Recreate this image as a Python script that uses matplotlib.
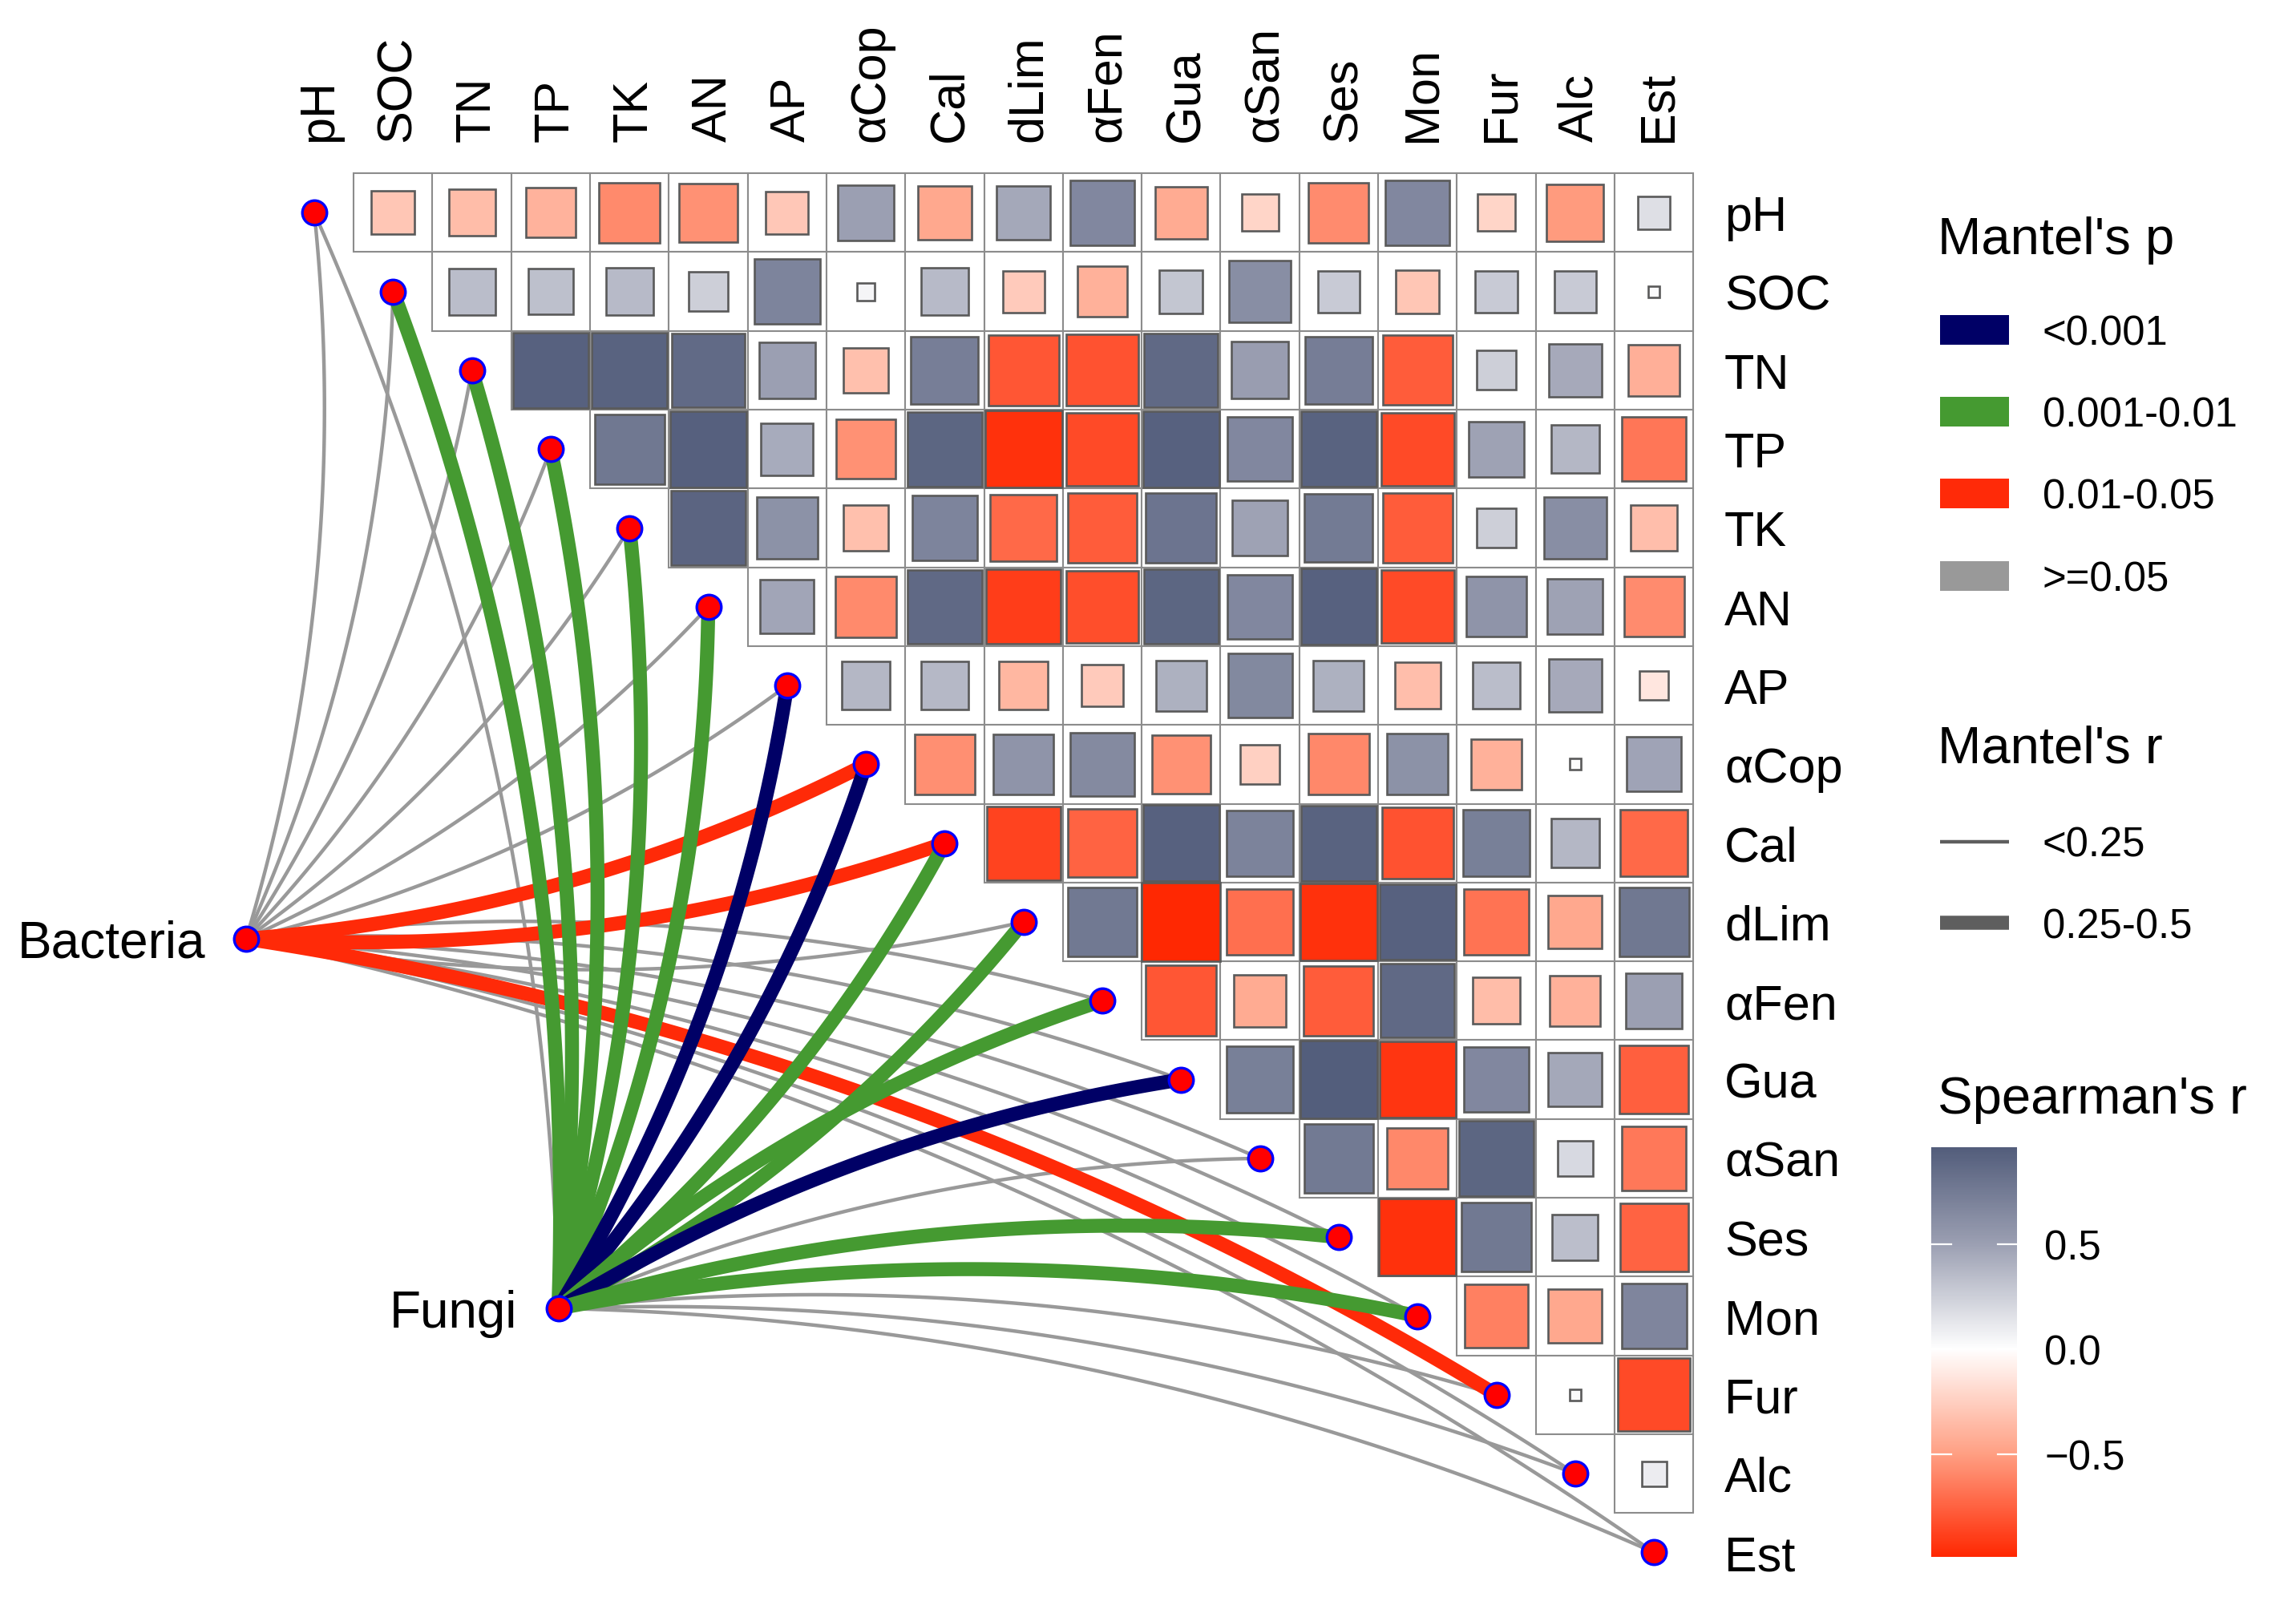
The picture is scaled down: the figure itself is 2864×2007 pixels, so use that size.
import numpy as np
import matplotlib
matplotlib.use("Agg")
import matplotlib.pyplot as plt
from matplotlib.colors import LinearSegmentedColormap, Normalize
from matplotlib.patches import Rectangle

plt.rcParams['font.family'] = ['Liberation Sans', 'DejaVu Sans']

# ---------------- data ----------------
variables = ["pH", "SOC", "TN", "TP", "TK", "AN", "AP", "αCop", "Cal", "dLim",
             "αFen", "Gua", "αSan", "Ses", "Mon", "Fur", "Alc", "Est"]

# Spearman's r, upper triangle: row k holds r with variables k+1 ... 17
r_pH   = [-0.30, -0.35, -0.40, -0.59, -0.56, -0.29, 0.50, -0.46, 0.46, 0.67, -0.44, -0.22, -0.58, 0.67, -0.22, -0.52, 0.17]
r_SOC  = [0.35, 0.33, 0.36, 0.25, 0.69, 0.05, 0.36, -0.28, -0.41, 0.30, 0.62, 0.28, -0.30, 0.28, 0.28, 0.02]
r_TN   = [0.93, 0.92, 0.87, 0.50, -0.33, 0.73, -0.80, -0.82, 0.88, 0.52, 0.74, -0.78, 0.25, 0.45, -0.42]
r_TP   = [0.78, 0.94, 0.44, -0.56, 0.90, -0.95, -0.85, 0.93, 0.67, 0.92, -0.85, 0.49, 0.38, -0.67]
r_TK   = [0.91, 0.60, -0.33, 0.69, -0.72, -0.78, 0.80, 0.49, 0.75, -0.78, 0.25, 0.62, -0.34]
r_AN   = [0.47, -0.59, 0.88, -0.90, -0.83, 0.90, 0.67, 0.93, -0.85, 0.58, 0.49, -0.58]
r_AP   = [0.38, 0.37, -0.38, -0.28, 0.41, 0.66, 0.41, -0.34, 0.35, 0.45, -0.13]
r_aCop = [-0.57, 0.58, 0.65, -0.56, -0.25, -0.60, 0.60, -0.41, 0.02, 0.48]
r_Cal  = [-0.88, -0.75, 0.93, 0.70, 0.92, -0.82, 0.72, 0.38, -0.72]
r_dLim = [0.77, -0.99, -0.70, -0.95, 0.93, -0.68, -0.46, 0.78]
r_aFen = [-0.80, -0.44, -0.78, 0.88, -0.35, -0.41, 0.50]
r_Gua  = [0.72, 0.96, -0.93, 0.67, 0.46, -0.76]
r_aSan = [0.76, -0.60, 0.90, 0.20, -0.66]
r_Ses  = [-0.95, 0.77, 0.34, -0.75]
r_Mon  = [-0.63, -0.46, 0.68]
r_Fur  = [0.02, -0.85]
r_Alc  = [0.10]

env_names = ["Bacteria", "Fungi"]
bacteria_p = [">=0.05", ">=0.05", ">=0.05", ">=0.05", ">=0.05", ">=0.05", ">=0.05",
              "0.01-0.05", "0.01-0.05", ">=0.05", ">=0.05", ">=0.05", ">=0.05",
              ">=0.05", ">=0.05", "0.01-0.05", ">=0.05", ">=0.05"]
bacteria_r = ["<0.25", "<0.25", "<0.25", "<0.25", "<0.25", "<0.25", "<0.25",
              "0.25-0.5", "0.25-0.5", "<0.25", "<0.25", "<0.25", "<0.25",
              "<0.25", "<0.25", "0.25-0.5", "<0.25", "<0.25"]
fungi_p = [">=0.05", "0.001-0.01", "0.001-0.01", "0.001-0.01", "0.001-0.01", "0.001-0.01",
           "<0.001", "<0.001", "0.001-0.01", "0.001-0.01", "0.001-0.01", "<0.001",
           ">=0.05", "0.001-0.01", "0.001-0.01", ">=0.05", ">=0.05", ">=0.05"]
fungi_r = ["<0.25", "0.25-0.5", "0.25-0.5", "0.25-0.5", "0.25-0.5", "0.25-0.5",
           "0.25-0.5", "0.25-0.5", "0.25-0.5", "0.25-0.5", "0.25-0.5", "0.25-0.5",
           "<0.25", "0.25-0.5", "0.25-0.5", "<0.25", "<0.25", "<0.25"]

p_levels = ["<0.001", "0.001-0.01", "0.01-0.05", ">=0.05"]
r_levels = ["<0.25", "0.25-0.5"]
cbar_ticks = [-0.5, 0.0, 0.5]

# ---------------- styles ----------------
p_colors = {"<0.001": "#000066", "0.001-0.01": "#459A31",
            "0.01-0.05": "#FF2A08", ">=0.05": "#999999"}
r_widths = {"<0.25": 1.6, "0.25-0.5": 6.3}

cmap = LinearSegmentedColormap.from_list(
    "spear", [(0.0, "#FF2600"), (0.25, "#FFA084"), (0.5, "#FFFFFF"),
              (0.75, "#9CA0B3"), (1.0, "#4D5877")])
norm = Normalize(-1, 1)

W, H, DPI = 2864, 2008, 200
U, X0, Y0 = 98.3, 392.0, 266.3
def px2x(p): return (p - X0) / U
def px2y(p): return (p - Y0) / U

fig = plt.figure(figsize=(W / DPI, H / DPI), dpi=DPI)
ax = fig.add_axes([0, 0, 1, 1])
ax.axis('off')

rows = [r_pH, r_SOC, r_TN, r_TP, r_TK, r_AN, r_AP, r_aCop, r_Cal, r_dLim,
        r_aFen, r_Gua, r_aSan, r_Ses, r_Mon, r_Fur, r_Alc]
n = len(variables)

# grid cells
for i, row in enumerate(rows):
    for k, r in enumerate(row):
        j = i + 1 + k
        ax.add_patch(Rectangle((j - 0.5, i - 0.5), 1, 1, facecolor='white',
                               edgecolor='#8c8c8c', lw=0.75, zorder=1))
# squares
for i, row in enumerate(rows):
    for k, r in enumerate(row):
        j = i + 1 + k
        s = np.sqrt(abs(r))
        ax.add_patch(Rectangle((j - s / 2, i - s / 2), s, s, facecolor=cmap(norm(r)),
                               edgecolor='#5a5a5a', lw=0.95, zorder=2))

# ---------------- mantel links ----------------
env_pos = {"Bacteria": (px2x(307.0), px2y(1172.0)), "Fungi": (px2x(696.5), px2y(1633.0))}
links = {"Bacteria": (bacteria_p, bacteria_r), "Fungi": (fungi_p, fungi_r)}

def curve(p0, p1, side, c=0.1, m=80):
    p0 = np.asarray(p0, float); p1 = np.asarray(p1, float)
    d = p1 - p0
    L = np.hypot(d[0], d[1])
    perp = np.array([-d[1], d[0]]) / L   # right-hand side (y axis points down)
    ctrl = (p0 + p1) / 2 + side * perp * c * L
    t = np.linspace(0, 1, m)[:, None]
    return (1 - t) ** 2 * p0 + 2 * (1 - t) * t * ctrl + t ** 2 * p1

for grey_pass in (True, False):
    for env in env_names:
        pv, rv = links[env]
        for idx in range(n):
            is_grey = pv[idx] == ">=0.05"
            if is_grey != grey_pass:
                continue
            side = 1 if idx <= 9 else -1
            pts = curve(env_pos[env], (idx, idx), side)
            ax.plot(pts[:, 0], pts[:, 1], color=p_colors[pv[idx]],
                    lw=r_widths[rv[idx]], solid_capstyle='butt',
                    zorder=3 if grey_pass else 4)

# nodes
ax.plot(np.arange(n), np.arange(n), 'o', ms=11, mfc='#FF0000', mec='#0000FF',
        mew=1.2, zorder=6, linestyle='none')
ax.plot([env_pos[e][0] for e in env_names], [env_pos[e][1] for e in env_names], 'o',
        ms=11, mfc='#FF0000', mec='#0000FF', mew=1.2, zorder=6, linestyle='none')

# ---------------- labels ----------------
fs_ax = 22
em_ax = fs_ax * DPI / 72 / U
for k, v in enumerate(variables):
    ax.text(k + 0.358 * em_ax, px2y(177.0), v, rotation=90, rotation_mode='anchor',
            ha='left', va='baseline', fontsize=fs_ax, color='black')
    ax.text(px2x(2151.0), k + 0.358 * em_ax, v, ha='left', va='baseline',
            fontsize=fs_ax, color='black')

fs_env = 23
em_env = fs_env * DPI / 72 / U
for e in env_names:
    x, y = env_pos[e]
    ax.text(x - 51.0 / U, y + 0.358 * em_env, e, ha='right', va='baseline',
            fontsize=fs_env, color='black')

# ---------------- legend ----------------
fs_t = 23.5
fs_l = 18.3
em_l = fs_l * DPI / 72 / U
lx = px2x(2416.7)
kx0, kx1 = px2x(2420.3), px2x(2506.0)
tx = px2x(2548.0)

ax.text(lx, px2y(317.3), "Mantel's p", ha='left', va='baseline', fontsize=fs_t)
for yc, lev in zip([412.0, 514.3, 616.7, 719.3], p_levels):
    yy = px2y(yc)
    hh = 37 / U
    ax.add_patch(Rectangle((kx0, yy - hh / 2), kx1 - kx0, hh, facecolor=p_colors[lev],
                           edgecolor='none', zorder=5))
    ax.text(tx, yy + 0.358 * em_l, lev, ha='left', va='baseline', fontsize=fs_l)

ax.text(lx, px2y(952.0), "Mantel's r", ha='left', va='baseline', fontsize=fs_t)
for yc, lev in zip([1050.5, 1152.0], r_levels):
    yy = px2y(yc)
    ax.plot([kx0, kx1], [yy, yy], color='#5e5e5e', lw=r_widths[lev],
            solid_capstyle='butt', zorder=5)
    ax.text(tx, yy + 0.358 * em_l, lev, ha='left', va='baseline', fontsize=fs_l)

ax.text(lx, px2y(1389.3), "Spearman's r", ha='left', va='baseline', fontsize=fs_t)
all_r = np.concatenate([np.asarray(r) for r in rows])
vmin, vmax = all_r.min(), all_r.max()
y0c = px2y(1684.0)
kper = 261.8 / U
cx0, cx1 = px2x(2408.6), px2x(2514.7)
yt, yb = y0c - vmax * kper, y0c - vmin * kper
grad = np.linspace(vmin, vmax, 512)[:, None]
ax.imshow(cmap(norm(grad)), extent=(cx0, cx1, yb, yt), origin='lower',
          aspect='auto', interpolation='bilinear', zorder=5)
for t in cbar_ticks:
    yy = y0c - t * kper
    ax.plot([cx0, cx0 + 25 / U], [yy, yy], color='white', lw=0.8, zorder=6)
    ax.plot([cx1 - 23 / U, cx1], [yy, yy], color='white', lw=0.8, zorder=6)
    lab = f"{t:.1f}".replace("-", "\u2212")
    ax.text(px2x(2550.4), yy + 0.358 * em_l, lab, ha='left', va='baseline', fontsize=fs_l)

ax.set_xlim(px2x(0), px2x(W))
ax.set_ylim(px2y(H), px2y(0))

fig.savefig("out.png", dpi=DPI, facecolor='white')
